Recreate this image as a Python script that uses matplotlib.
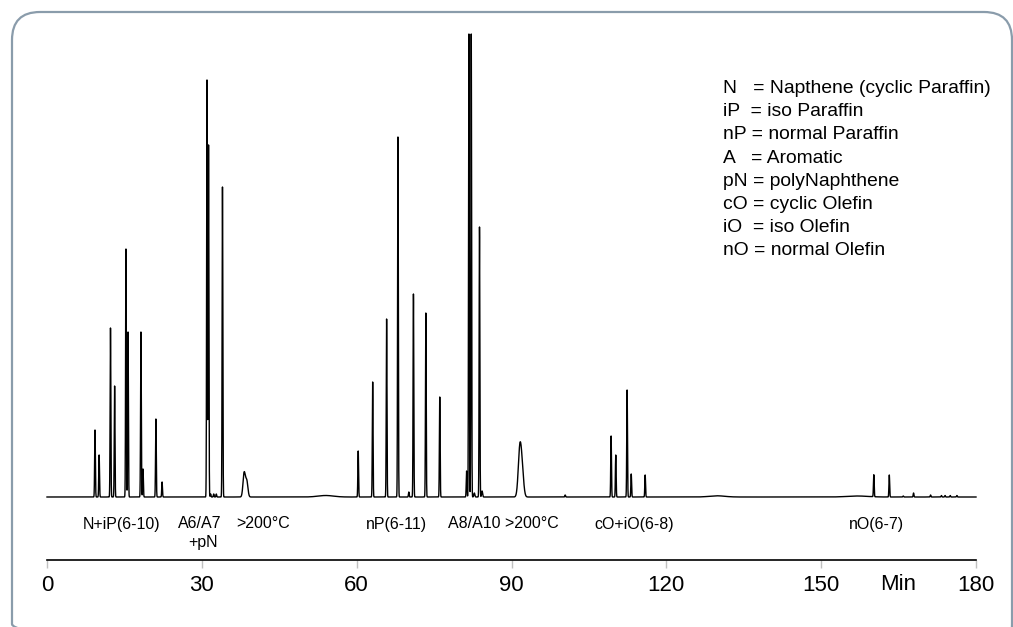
import numpy as np
import matplotlib
matplotlib.use("Agg")
import matplotlib.pyplot as plt
from matplotlib.patches import FancyBboxPatch

plt.rcParams['font.family'] = ['Liberation Sans', 'DejaVu Sans']

# --- peak table (retention time in min, height, sigma in min) ---
peak_rt = [9.3, 10.1, 12.3, 13.1, 15.3, 15.7, 18.2, 18.6, 21.1, 22.3,
           31.0, 31.3, 31.7, 32.3, 32.8, 34.0, 38.2, 38.7, 54.0,
           60.3, 63.1, 65.8, 68.0, 70.1, 71.0, 73.4, 76.1,
           81.3, 81.75, 82.2, 82.8, 83.8, 84.3, 91.6, 92.05, 100.4,
           109.3, 110.2, 112.4, 113.2, 115.9, 129.8, 157.0,
           160.2, 163.2, 165.9, 167.9, 171.2, 173.3, 174.0, 175.0, 176.3]
peak_height = [67, 42, 169, 111, 248, 165, 165, 28, 78, 15,
               417, 352, 3, 3, 3, 310, 24, 16, 1.5,
               46, 115, 178, 360, 5, 203, 184, 100,
               26, 463, 463, 4, 270, 6, 45, 25, 2,
               61, 42, 107, 23, 22, 1.2, 1.0,
               22, 22, 1, 4, 2, 1.5, 1.5, 1.5, 1.5]
peak_sigma = [0.07] * 10 + \
             [0.07, 0.07, 0.07, 0.07, 0.07, 0.07, 0.22, 0.22, 1.5] + \
             [0.07] * 8 + \
             [0.07, 0.07, 0.07, 0.1, 0.07, 0.1, 0.3, 0.3, 0.07] + \
             [0.07, 0.07, 0.07, 0.07, 0.07, 1.5, 2.0] + \
             [0.07] * 9

# group labels under the trace
group_labels = ['N+iP(6-10)', 'A6/A7', '+pN', '>200°C', 'nP(6-11)',
                'A8/A10 >200°C', 'cO+iO(6-8)', 'nO(6-7)']
group_rt = [14.5, 29.6, 30.2, 41.9, 67.8, 88.5, 113.7, 160.8]
group_row = [0, 0, 1, 0, 0, 0, 0, 0]

legend_lines = ['N   = Napthene (cyclic Paraffin)',
                'iP  = iso Paraffin',
                'nP = normal Paraffin',
                'A   = Aromatic',
                'pN = polyNaphthene',
                'cO = cyclic Olefin',
                'iO  = iso Olefin',
                'nO = normal Olefin']

tick_vals = [0, 30, 60, 90, 120, 150, 180]

# build the trace from the peak table
t = np.arange(0, 180.005, 0.01)
signal = np.zeros_like(t)
for rt, h, s in zip(peak_rt, peak_height, peak_sigma):
    signal += h * np.exp(-0.5 * ((t - rt) / s) ** 2)

W, H = 1013, 627
fig = plt.figure(figsize=(W / 100, H / 100), dpi=100)

# rounded frame drawn in pixel units
bg = fig.add_axes([0, 0, 1, 1])
bg.set_xlim(0, W)
bg.set_ylim(H, 0)
bg.axis('off')
frame = FancyBboxPatch((12, 12), 1000, 640, boxstyle='round,pad=0,rounding_size=28',
                       facecolor='none', edgecolor='#8a9cab', linewidth=1.6)
bg.add_patch(frame)

x0, x1, base = 47, 976, 497
ax = fig.add_axes([x0 / W, (H - base) / H, (x1 - x0) / W, 470 / H])
ax.set_xlim(0, 180)
ax.set_ylim(0, 470)
ax.patch.set_alpha(0)
ax.plot(t, signal, color='black', linewidth=1.0, clip_on=False)

for s in ['left', 'top', 'right']:
    ax.spines[s].set_visible(False)
ax.spines['bottom'].set_position(('data', -63))
ax.spines['bottom'].set_linewidth(1.2)
ax.set_yticks([])
ax.set_xticks(tick_vals)
ax.set_xticklabels([str(v) for v in tick_vals])
ax.tick_params(axis='x', direction='out', length=6, width=1, color='#c0c0c0',
               labelsize=16, pad=5)

ax.text(164.9, -88, 'Min', ha='center', va='center', fontsize=16)

for lab, rt, row in zip(group_labels, group_rt, group_row):
    ax.text(rt, -27 - 19 * row, lab, ha='center', va='center', fontsize=11.5)

for i, line in enumerate(legend_lines):
    ax.text(131, 408.5 - 23.2 * i, line, ha='left', va='center', fontsize=13.9)

fig.savefig('out.png', dpi=100)
